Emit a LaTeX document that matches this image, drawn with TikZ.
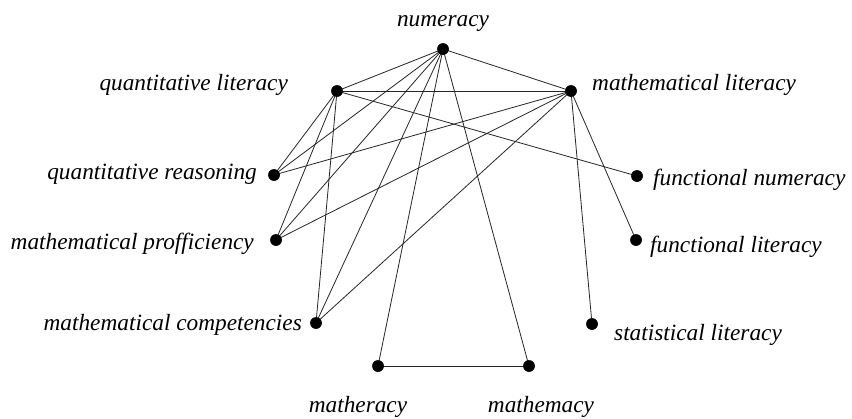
\documentclass[tikz,border=0pt]{standalone}
\usepackage{fontspec}
\setmainfont{Liberation Serif}
\begin{document}
\begin{tikzpicture}[x=1pt,y=-1pt,
  dotnode/.style={circle,fill=black,draw=none,minimum size=11.5pt,inner sep=0pt},
  lbl/.style={inner sep=0pt,font=\fontsize{23.3}{26}\selectfont\itshape},
  link/.style={line width=0.8pt,draw=black!85}]
\useasboundingbox[fill=white] (0,0) rectangle (852,418);
% dots
\node[dotnode] (N)  at (443,49) {};
\node[dotnode] (QL) at (337,91) {};
\node[dotnode] (ML) at (571,91) {};
\node[dotnode] (QR) at (274,175) {};
\node[dotnode] (MP) at (276,240) {};
\node[dotnode] (MC) at (316,323) {};
\node[dotnode] (FN) at (637,176) {};
\node[dotnode] (FL) at (636,240) {};
\node[dotnode] (SL) at (592,324) {};
\node[dotnode] (MA) at (378,366) {};
\node[dotnode] (MY) at (529,366) {};
% labels
\node[lbl,anchor=base] (tN) at (443,26) {numeracy};
\node[lbl,anchor=base east] (tQL) at (288,90) {quantitative literacy};
\node[lbl,anchor=base west] (tML) at (592,90) {mathematical literacy};
\node[lbl,anchor=base east] (tQR) at (257,179) {quantitative reasoning};
\node[lbl,anchor=base east] (tMP) at (254,249) {mathematical profficiency};
\node[lbl,anchor=base east] (tMC) at (302,330) {mathematical competencies};
\node[lbl,anchor=base west] (tFN) at (653,185) {functional numeracy};
\node[lbl,anchor=base west] (tFL) at (650,252) {functional literacy};
\node[lbl,anchor=base west] (tSL) at (614,340) {statistical literacy};
\node[lbl,anchor=base] (tMA) at (358,412) {matheracy};
\node[lbl,anchor=base] (tMY) at (541,412) {mathemacy};
% connectors
\begin{scope}[on background layer/.style={}]
\foreach \a/\b in {N/QL,N/ML,N/QR,N/MP,N/MC,N/MA,N/MY,
                   QL/ML,QL/QR,QL/MP,QL/MC,QL/FN,
                   ML/QR,ML/MP,ML/MC,ML/FL,ML/SL,MA/MY}
  \draw[link] (\a.center) -- (\b.center);
\end{scope}
% redraw dots on top
\foreach \n in {N,QL,ML,QR,MP,MC,FN,FL,SL,MA,MY}
  \fill (\n.center) circle (5.75pt);
\end{tikzpicture}
\end{document}
